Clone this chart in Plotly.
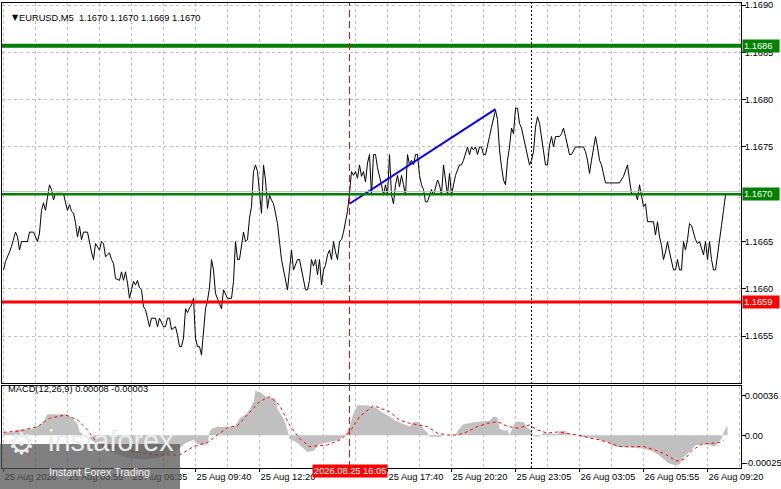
import plotly.graph_objects as go

# ---------- canvas / plot area (pixels) ----------
W, H = 781, 489
L, R, T, B = 2, 40, 3, 21
PW, PH = W - L - R, H - T - B


def fx(px):
    return (px - L) / PW


def fy(py):
    return (H - B - py) / PH


FONT = "Liberation Sans, Arial, sans-serif"
FS = 9.3

# ---------- data ----------
price_bar = [
    0, 1, 3, 4, 6, 7, 8, 9, 12, 13, 15, 17, 18, 19, 20, 21, 22, 23, 24, 25, 26, 30, 31, 32, 33, 34, 35, 36, 37, 38,
    39, 40, 42, 43, 44, 45, 46, 48, 49, 50, 51, 53, 54, 55, 56, 58, 59, 60, 61, 62, 63, 64, 65, 66, 67, 68, 69, 70,
    71, 72, 73, 74, 76, 77, 78, 80, 81, 82, 83, 84, 86, 87, 88, 89, 90, 91, 92, 93, 94, 95, 96, 97, 98, 99, 100,
    101, 102, 103, 104, 105, 106, 107, 108, 109, 110, 111, 112, 114, 115, 116, 117, 118, 119, 120, 121, 122, 123,
    124, 125, 126, 127, 128, 129, 130, 131, 132, 133, 134, 135, 136, 137, 138, 139, 140, 142, 143, 144, 145, 146,
    147, 148, 149, 150, 151, 152, 153, 154, 155, 156, 157, 158, 159, 160, 161, 162, 163, 164, 165, 166, 167, 168,
    169, 170, 172, 173, 174, 175, 176, 177, 178, 179, 180, 181, 182, 183, 184, 185, 186, 187, 188, 189, 190, 191,
    192, 193, 194, 195, 196, 197, 198, 199, 200, 201, 202, 203, 204, 205, 206, 207, 208, 209, 210, 211, 212, 213,
    214, 215, 217, 218, 219, 220, 221, 222, 223, 224, 225, 226, 228, 229, 230, 231, 232, 233, 234, 235, 236, 237,
    238, 239, 240, 241, 242, 243, 244, 245, 246, 247, 248, 249, 250, 251, 252, 253, 254, 255, 256, 257, 258, 259,
    260, 261, 262, 263, 264, 265, 266, 267, 268, 269, 270, 271, 272, 273, 274, 275, 276, 278, 279, 280, 281, 282,
    283, 284, 285, 286, 290, 291, 292, 293, 294, 295, 296, 297, 298, 299, 300, 301, 303, 308, 310, 311, 312, 313,
    314, 316, 317, 318, 319, 320, 321, 322, 325, 326, 327, 328, 329, 330, 331, 332, 333, 334, 335, 336, 337, 338,
    339, 340, 341, 342, 343, 344, 345, 346, 347, 348, 350, 351, 352, 353, 354, 355, 356, 357, 358, 359, 360, 361,
    362,
]
price_close = [
    1.16620, 1.16629, 1.16639, 1.16645, 1.16660, 1.16655, 1.16641, 1.16650, 1.16650, 1.16660, 1.16660, 1.16650,
    1.16659, 1.16683, 1.16691, 1.16683, 1.16697, 1.16710, 1.16705, 1.16694, 1.16701, 1.16701, 1.16691, 1.16683,
    1.16689, 1.16682, 1.16680, 1.16670, 1.16655, 1.16666, 1.16652, 1.16660, 1.16660, 1.16648, 1.16639, 1.16631,
    1.16648, 1.16641, 1.16650, 1.16648, 1.16634, 1.16638, 1.16631, 1.16627, 1.16611, 1.16609, 1.16618, 1.16609,
    1.16618, 1.16606, 1.16590, 1.16599, 1.16608, 1.16604, 1.16609, 1.16601, 1.16599, 1.16581, 1.16578, 1.16569,
    1.16560, 1.16569, 1.16569, 1.16560, 1.16569, 1.16560, 1.16560, 1.16569, 1.16569, 1.16557, 1.16560, 1.16551,
    1.16539, 1.16539, 1.16548, 1.16579, 1.16575, 1.16580, 1.16583, 1.16590, 1.16548, 1.16539, 1.16539, 1.16530,
    1.16553, 1.16579, 1.16588, 1.16601, 1.16631, 1.16620, 1.16595, 1.16590, 1.16585, 1.16579, 1.16599, 1.16595,
    1.16590, 1.16590, 1.16608, 1.16650, 1.16631, 1.16631, 1.16648, 1.16660, 1.16650, 1.16652, 1.16675, 1.16687,
    1.16724, 1.16731, 1.16724, 1.16699, 1.16680, 1.16731, 1.16715, 1.16685, 1.16699, 1.16694, 1.16690, 1.16680,
    1.16669, 1.16650, 1.16631, 1.16620, 1.16599, 1.16620, 1.16641, 1.16620, 1.16625, 1.16631, 1.16631, 1.16620,
    1.16609, 1.16599, 1.16599, 1.16609, 1.16631, 1.16624, 1.16631, 1.16615, 1.16631, 1.16604, 1.16620, 1.16625,
    1.16636, 1.16641, 1.16631, 1.16650, 1.16639, 1.16631, 1.16650, 1.16652, 1.16660, 1.16682, 1.16701, 1.16724,
    1.16720, 1.16724, 1.16717, 1.16731, 1.16719, 1.16724, 1.16713, 1.16733, 1.16742, 1.16699, 1.16742, 1.16742,
    1.16728, 1.16720, 1.16710, 1.16699, 1.16710, 1.16699, 1.16742, 1.16699, 1.16690, 1.16710, 1.16720, 1.16708,
    1.16720, 1.16710, 1.16699, 1.16742, 1.16731, 1.16736, 1.16731, 1.16742, 1.16742, 1.16720, 1.16710, 1.16705,
    1.16692, 1.16692, 1.16699, 1.16705, 1.16699, 1.16715, 1.16710, 1.16699, 1.16731, 1.16715, 1.16699, 1.16722,
    1.16699, 1.16710, 1.16720, 1.16731, 1.16731, 1.16736, 1.16742, 1.16750, 1.16742, 1.16750, 1.16747, 1.16750,
    1.16742, 1.16750, 1.16750, 1.16742, 1.16742, 1.16750, 1.16761, 1.16771, 1.16780, 1.16789, 1.16779, 1.16747,
    1.16729, 1.16715, 1.16710, 1.16736, 1.16750, 1.16770, 1.16764, 1.16791, 1.16791, 1.16775, 1.16770, 1.16761,
    1.16750, 1.16742, 1.16731, 1.16736, 1.16745, 1.16771, 1.16782, 1.16775, 1.16761, 1.16742, 1.16731, 1.16731,
    1.16752, 1.16761, 1.16750, 1.16761, 1.16761, 1.16764, 1.16770, 1.16761, 1.16752, 1.16742, 1.16742, 1.16747,
    1.16750, 1.16750, 1.16745, 1.16736, 1.16722, 1.16736, 1.16750, 1.16761, 1.16750, 1.16736, 1.16731, 1.16720,
    1.16712, 1.16712, 1.16712, 1.16719, 1.16724, 1.16731, 1.16715, 1.16701, 1.16701, 1.16694, 1.16710, 1.16697,
    1.16687, 1.16690, 1.16671, 1.16671, 1.16657, 1.16671, 1.16655, 1.16646, 1.16631, 1.16639, 1.16650, 1.16639,
    1.16631, 1.16620, 1.16620, 1.16631, 1.16620, 1.16620, 1.16650, 1.16641, 1.16652, 1.16669, 1.16667, 1.16660,
    1.16652, 1.16648, 1.16650, 1.16636, 1.16650, 1.16631, 1.16650, 1.16631, 1.16620, 1.16620, 1.16634, 1.16650,
    1.16667, 1.16683, 1.16699, 1.16701,
]

# MACD main (histogram) and signal (dotted)
hist_bar = [
    0, 5, 6, 15, 16, 18, 20, 22, 32, 34, 37, 38, 41, 43, 48, 55, 62, 70, 78, 85, 88, 91, 95, 97, 100, 102, 103,
    104, 107, 115, 116, 118, 122, 125, 126, 129, 131, 136, 137, 140, 142, 143, 147, 150, 152, 155, 158, 163, 168,
    171, 173, 175, 177, 181, 186, 189, 193, 196, 201, 203, 205, 208, 210, 212, 213, 218, 221, 226, 227, 230, 236,
    243, 245, 247, 248, 251, 252, 253, 255, 256, 260, 262, 264, 265, 268, 270, 277, 278, 281, 282, 287, 288, 296,
    298, 302, 304, 307, 313, 320, 324, 327, 330, 332, 336, 338, 340, 343, 346, 352, 355, 357, 359, 360, 362,
]
hist_val = [
    2.7e-5, 2.7e-5, 5.0e-5, 5.7e-5, 8.0e-5, 8.7e-5, 1.2e-4, 1.9e-4, 1.9e-4, 1.6e-4, 1.0e-4, 3.5e-5, -1.5e-5,
    -2.7e-5, -1.0e-4, -1.6e-4, -2.0e-4, -2.2e-4, -2.0e-4, -1.5e-4, -1.2e-4, -7e-5, -4e-5, -8e-5, -8.7e-5, -8e-5,
    3e-5, 6e-5, 7.8e-5, 7.8e-5, 9e-5, 1.5e-4, 2.0e-4, 3.0e-4, 4.0e-4, 3.8e-4, 3.5e-4, 3.3e-4, 2.4e-4, 1.5e-4,
    5e-5, -3e-5, -7e-5, -1.2e-4, -1.5e-4, -1.4e-4, -8e-5, -6e-5, -4e-5, 1e-5, 8e-5, 2.0e-4, 2.7e-4, 2.7e-4,
    2.5e-4, 2.1e-4, 1.7e-4, 1.3e-4, 9e-5, 8e-5, 1.2e-4, 1.2e-4, 6e-5, 2e-5, -1.2e-5, -1.2e-5, 0.0, 0.0, 4e-5,
    1e-4, 1.2e-4, 1.3e-4, 1.7e-4, 1.6e-4, 6e-5, 4e-5, 4.8e-5, 0.0, 9e-5, 1.2e-4, 1.2e-4, 7e-5, 4e-5, -1e-5,
    -1e-5, 2e-5, 1e-5, 4e-5, 4e-5, 1e-5, 0.0, -1.5e-5, -2.5e-5, -4e-5, -6e-5, -9e-5, -1.05e-4, -1.05e-4,
    -1.2e-4, -1.4e-4, -1.7e-4, -2.1e-4, -2.5e-4, -2.7e-4, -2.6e-4, -2.0e-4, -1.5e-4, -9e-5, -8e-5, -1.0e-4,
    -8e-5, -3e-5, 2e-5, 9e-5,
]
sig_bar = [
    0, 8, 17, 23, 31, 37, 42, 47, 53, 65, 77, 88, 95, 102, 107, 112, 117, 122, 128, 133, 138, 143, 148, 153,
    162, 168, 173, 178, 185, 193, 198, 203, 208, 212, 217, 222, 227, 232, 237, 242, 247, 252, 257, 263, 267,
    272, 277, 283, 288, 293, 298, 303, 308, 313, 320, 326, 331, 336, 338, 341, 344, 349, 354, 358, 360,
]
sig_val = [
    2.7e-5, 3.9e-5, 7.8e-5, 1.53e-4, 1.83e-4, 1.38e-4, 4.8e-5, -7.2e-5, -1.02e-4, -1.47e-4, -1.77e-4, -1.77e-4,
    -1.02e-4, -6.3e-5, 3e-6, 6.9e-5, 8.7e-5, 1.83e-4, 3.03e-4, 3.48e-4, 2.73e-4, 9.3e-5, -2.7e-5, -1.02e-4,
    -8.7e-5, -4.2e-5, 2.7e-5, 1.68e-4, 2.67e-4, 2.13e-4, 1.38e-4, 1.08e-4, 9.3e-5, 7.8e-5, 1.8e-5, 3e-6, 3e-6,
    3.3e-5, 7.8e-5, 1.08e-4, 1.23e-4, 8e-5, 6.5e-5, 9.3e-5, 4.8e-5, 2e-5, 3e-5, 1.5e-5, 0.0, -2.5e-5, -4e-5,
    -7e-5, -1.0e-4, -1.05e-4, -1.0e-4, -1.35e-4, -1.7e-4, -2.3e-4, -2.3e-4, -2.1e-4, -1.4e-4, -8e-5, -7e-5,
    -6.5e-5, -4.5e-5,
]

# chart objects
trend_bar = [173, 246]
trend_price = [1.16690, 1.16790]
level_price = [1.16857, 1.16700, 1.16586]
level_text = ["1.1686", "1.1670", "1.1659"]
level_color = ["#008000", "#008000", "#ff0000"]
level_width = [4, 2.5, 3]
bid_price = 1.16703
session_bar = 173
session_text = "2026.08.25 16:05"
cursor_bar = 264

# axes
time_tick_bar = [0, 32, 64, 96, 128, 192, 224, 256, 288, 320, 352]
time_tick_text = ["25 Aug 2026", "25 Aug 03:55", "25 Aug 06:35", "25 Aug 09:40", "25 Aug 12:20",
                  "25 Aug 17:40", "25 Aug 20:20", "25 Aug 23:05", "26 Aug 03:05", "26 Aug 05:55",
                  "26 Aug 09:20"]
price_ticks = [1.1655, 1.1660, 1.1665, 1.1670, 1.1675, 1.1680, 1.1685, 1.1690]
macd_ticks = [-0.00025, 0.0, 0.00036]
macd_tick_text = ["-0.00025", "0.00", "0.00036"]

# ---------- figure ----------
fig = go.Figure()

fig.add_trace(go.Scatter(
    x=hist_bar, y=hist_val, xaxis="x2", yaxis="y2", mode="lines",
    line=dict(width=0, color="#c0c0c0"), fill="tozeroy", fillcolor="#c0c0c0",
    hoverinfo="skip", showlegend=False,
))
fig.add_trace(go.Scatter(
    x=sig_bar, y=sig_val, xaxis="x2", yaxis="y2", mode="lines",
    line=dict(width=1, color="#ff0000", dash="3px,3px"), showlegend=False,
))
fig.add_trace(go.Scatter(
    x=price_bar, y=price_close, mode="lines",
    line=dict(width=1, color="black"), showlegend=False,
))
fig.add_trace(go.Scatter(
    x=trend_bar, y=trend_price, mode="lines",
    line=dict(width=2, color="#0000ff"), showlegend=False,
))

shapes = []
# bid line
shapes.append(dict(type="line", xref="paper", yref="y", x0=0, x1=1, y0=bid_price, y1=bid_price,
                   line=dict(color="#c0c0c0", width=1), layer="above"))
for p, c, w in zip(level_price, level_color, level_width):
    shapes.append(dict(type="line", xref="paper", yref="y", x0=0, x1=1, y0=p, y1=p,
                       line=dict(color=c, width=w), layer="above"))
shapes.append(dict(type="line", xref="x", yref="paper", x0=session_bar, x1=session_bar, y0=0, y1=1,
                   line=dict(color="#ff0000", width=1, dash="7px,4px"), layer="above"))
shapes.append(dict(type="line", xref="x", yref="paper", x0=cursor_bar, x1=cursor_bar, y0=0, y1=1,
                   line=dict(color="black", width=1, dash="2px,2px"), layer="above"))
# watermark box
shapes.append(dict(type="rect", xref="paper", yref="paper", x0=fx(0), x1=fx(180), y0=fy(489), y1=fy(444),
                   fillcolor="rgba(85,85,85,0.75)", line=dict(width=0), layer="above"))

annotations = [
    dict(text="▼", xref="paper", yref="paper", x=fx(10), y=fy(11), showarrow=False,
         font=dict(family="DejaVu Sans", size=8, color="black")),
    dict(text="EURUSD,M5 \u00a01.1670 1.1670 1.1669 1.1670", xref="paper", yref="paper",
         x=fx(17), y=fy(11), xanchor="left", showarrow=False, font=dict(family=FONT, size=FS, color="black")),
    dict(text="MACD(12,26,9) 0.00008 -0.00003", xref="paper", yref="paper",
         x=fx(6), y=fy(396), xanchor="left", showarrow=False, font=dict(family=FONT, size=FS, color="black")),
    dict(text=session_text, xref="x2", yref="paper", x=session_bar, y=fy(478), showarrow=False,
         bgcolor="#ff0000", borderpad=1, font=dict(family=FONT, size=FS, color="white")),
    dict(text="⚙", xref="paper", yref="paper", x=fx(6), y=fy(463), xanchor="left", showarrow=False,
         font=dict(family="DejaVu Sans", size=30, color="#ececec")),
    dict(text="instaforex", xref="paper", yref="paper", x=fx(46), y=fy(459), xanchor="left",
         showarrow=False, font=dict(family=FONT, size=29, color="#ececec")),
    dict(text="Instant Forex Trading", xref="paper", yref="paper", x=fx(47), y=fy(480), xanchor="left",
         showarrow=False, font=dict(family=FONT, size=10.7, color="#ececec")),
]
for p, t, c in zip(level_price, level_text, level_color):
    annotations.append(dict(text=t, xref="paper", yref="y", x=fx(742), y=p, xanchor="left", showarrow=False,
                            bgcolor=c, borderpad=1, width=34, align="left",
                            font=dict(family=FONT, size=FS, color="white")))

grid = dict(showgrid=True, gridcolor="#c0c0c0", griddash="3px,3px", gridwidth=1)
xcommon = dict(range=[-0.75, 368.75], tickmode="array", tickvals=time_tick_bar, zeroline=False,
               showline=True, linecolor="black", linewidth=1, mirror=True, automargin=False,
               minor=dict(tick0=0, dtick=16, showgrid=True, gridcolor="#c0c0c0", griddash="3px,3px",
                          ticks=""),
               **grid)

fig.update_layout(
    width=W, height=H, margin=dict(l=L, r=R, t=T, b=B),
    paper_bgcolor="white", plot_bgcolor="white",
    font=dict(family=FONT, size=FS, color="black"),
    showlegend=False, hovermode=False,
    xaxis=dict(domain=[0, 1], anchor="y", showticklabels=False, ticks="", **xcommon),
    xaxis2=dict(domain=[0, 1], anchor="y2", matches="x", ticktext=time_tick_text, ticks="outside",
                ticklen=3, tickcolor="black", ticklabelposition="outside right", tickangle=0,
                tickfont=dict(family=FONT, size=FS, color="black"), **xcommon),
    yaxis=dict(domain=[fy(383), 1], anchor="x", side="right", range=[1.165005, 1.169022],
               tickmode="array", tickvals=price_ticks, ticktext=[f"{v:.4f}" for v in price_ticks],
               ticks="outside", ticklen=4, tickcolor="black", zeroline=False, automargin=False,
               ticklabelstandoff=-3,
               showline=True, linecolor="black", linewidth=1, mirror=True, **grid),
    yaxis2=dict(domain=[0, fy(386)], anchor="x2", side="right", range=[-2.943e-4, 4.437e-4],
                tickmode="array", tickvals=macd_ticks, ticktext=macd_tick_text, automargin=False,
                ticklabelstandoff=-3,
                ticks="outside", ticklen=4, tickcolor="black", showgrid=False, zeroline=False,
                showline=True, linecolor="black", linewidth=1, mirror=True),
    shapes=shapes, annotations=annotations,
)

# the page body has an 8px default margin; drop it so the chart sits at the window origin
fig.write_html("out.html", config={"displayModeBar": False},
               post_script="document.body.style.margin='0';")
